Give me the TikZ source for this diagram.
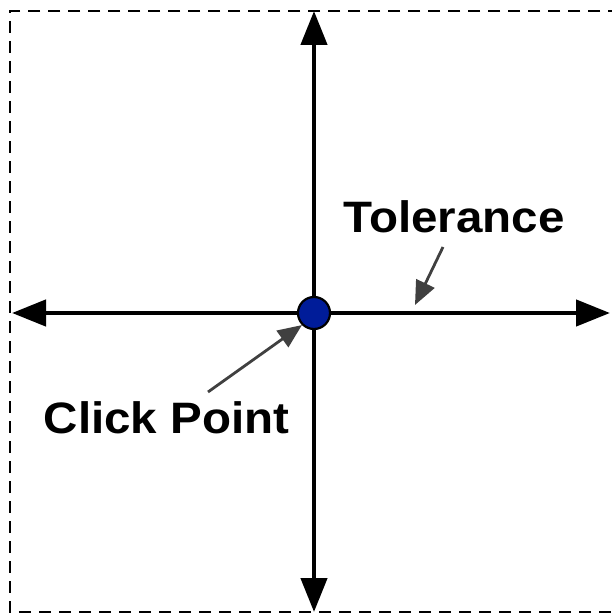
\documentclass[tikz,border=0pt]{standalone}
\usepackage{fontspec}
\setmainfont{Liberation Sans}[FakeStretch=1.08]
\usetikzlibrary{arrows.meta}
\definecolor{clickblue}{RGB}{0,28,153}
\definecolor{pointgray}{RGB}{64,64,64}
\tikzset{
  borderline/.style={draw=black, line width=2.2pt, dash pattern=on 12pt off 8pt},
  axisline/.style={draw=black, line width=4.5pt, -{Triangle[length=34pt,width=26pt]}},
  pointer/.style={draw=pointgray, line width=2.8pt, -{Triangle[length=24pt,width=20pt]}},
  biglabel/.style={inner sep=0pt, anchor=base, font=\fontsize{44}{50}\selectfont\bfseries},
  clickpt/.style={circle, draw=black, line width=2.2pt, fill=clickblue, minimum size=32pt, inner sep=0pt}
}
\begin{document}
\begin{tikzpicture}[x=1pt,y=-1pt]
\useasboundingbox (0,0) rectangle (611,615);
\draw[borderline] (640,11) -- (10,11) -- (10,612) -- (640,612);
\coordinate (c) at (314,313);
\coordinate (top) at (314,11);
\coordinate (bottom) at (314,612);
\coordinate (left) at (12,313);
\coordinate (right) at (610,313);
\draw[axisline] (c) -- (top);
\draw[axisline] (c) -- (bottom);
\draw[axisline] (c) -- (left);
\draw[axisline] (c) -- (right);
\node[clickpt] (cp) at (c) {};
\node[biglabel] (tol) at (454,232) {Tolerance};
\node[biglabel] (clk) at (166.5,433) {Click Point};
\coordinate (tolstart) at (443,247);
\coordinate (toltip) at (415,305);
\coordinate (clkstart) at (208,392);
\draw[pointer] (tolstart) -- (toltip);
\draw[pointer] (clkstart) -- (cp.225);
\end{tikzpicture}
\end{document}
